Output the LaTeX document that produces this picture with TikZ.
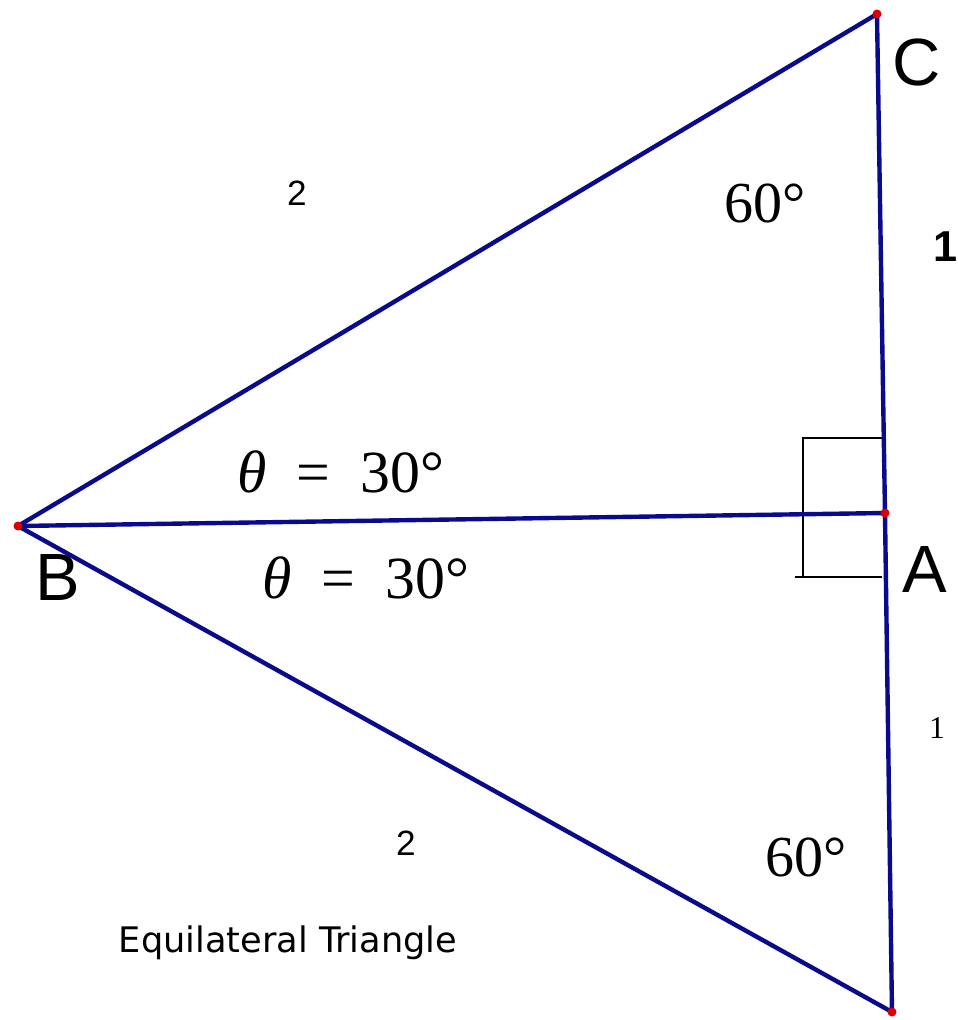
\documentclass[tikz,border=0pt]{standalone}
\usepackage{fontspec}
\setmainfont{Liberation Serif}
\setsansfont{Liberation Sans}
\newfontfamily\verdanalike{DejaVu Sans}
\usepackage{xcolor}
\usetikzlibrary{positioning,calc}
\definecolor{sideblue}{RGB}{10,10,140}
\definecolor{ptred}{RGB}{220,0,0}
\tikzset{
  side/.style={draw=sideblue, line width=1.25pt},
  rightmark/.style={draw=black, line width=0.6pt},
  vtx/.style={circle, fill=ptred, inner sep=0pt, minimum size=0.9mm},
  vname/.style={font=\sffamily\fontsize{19}{19}\selectfont},
  angtext/.style={font=\fontsize{16.5}{16.5}\selectfont},
  len/.style={font=\sffamily\fontsize{10}{10}\selectfont}}

\begin{document}
\begin{tikzpicture}[x=0.01cm, y=-0.01cm]
  \useasboundingbox (0,0) rectangle (958,1020);
  % vertices
  \coordinate (C) at (877,14);
  \coordinate (A) at (885,513);
  \coordinate (B) at (18,526);
  \coordinate (D) at (892,1012);
  % right angle mark at A
  \coordinate (r1) at (882,438);
  \coordinate (r2) at (803,438);
  \coordinate (r3) at (803,577);
  \coordinate (r4) at (795,577);
  \coordinate (r5) at (882,577);
  \draw[rightmark] (r1) -- (r2) -- (r3);
  \draw[rightmark] (r4) -- (r5);
  % sides
  \draw[side] (B) -- (C) -- (A) -- (D) -- (B);
  \draw[side] (B) -- (A);
  \foreach \p in {A,B,C,D} \node[vtx] (dot\p) at (\p) {};
  % labels
  \node[vname] (lC) at (917,62) {C};
  \node[vname] (lA) at (925,570) {A};
  \node[vname] (lB) at (58,578) {B};
  \node[len] (lBC) at (297,193) {2};
  \node[len] (lBD) at (406,843) {2};
  \node[font=\sffamily\bfseries\fontsize{12.3}{12.3}\selectfont] (lCA) at (946,247) {1};
  \node[font=\fontsize{9}{9}\selectfont] (lAD) at (937,728) {1};
  \node[angtext] (aC) at (765,203) {60°};
  \node[angtext] (aD) at (806,857) {60°};
  \node[angtext, font=\fontsize{17}{17}\selectfont] (th1) at (341,472) {\textit{θ}\ \ =\ \ 30°};
  \node[angtext, font=\fontsize{17}{17}\selectfont] (th2) at (366,578) {\textit{θ}\ \ =\ \ 30°};
  \node[font=\verdanalike\fontsize{10}{10}\selectfont] (title) at (288,943) {Equilateral Triangle};
\end{tikzpicture}
\end{document}
